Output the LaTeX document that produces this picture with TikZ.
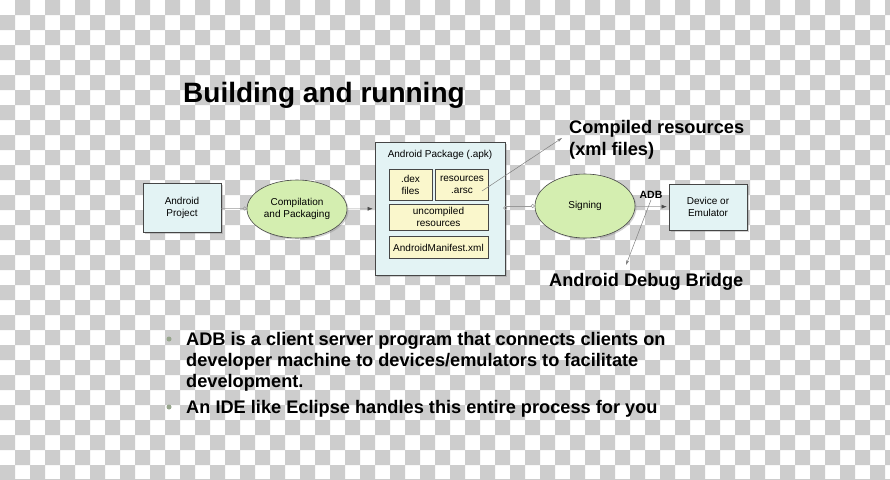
\documentclass[tikz,border=0pt]{standalone}
\usepackage{fontspec}
\setmainfont{Liberation Sans}
\usetikzlibrary{positioning, shapes.geometric, arrows.meta, shadows}

\definecolor{chk}{RGB}{205,205,205}
\definecolor{boxblue}{RGB}{227,243,244}
\definecolor{ovalgreen}{RGB}{212,238,176}
\definecolor{paleyellow}{RGB}{250,247,204}
\definecolor{edgegray}{RGB}{70,70,70}
\definecolor{dotgray}{RGB}{150,165,140}

\begin{document}
\begin{tikzpicture}[x=1pt,y=-1pt,
    box/.style={draw=edgegray, line width=0.6pt, fill=boxblue, inner sep=0pt,
      align=center, font=\fontsize{10}{12}\selectfont,
      drop shadow={shadow xshift=1.5pt, shadow yshift=-1.5pt, opacity=0.35}},
    oval/.style={ellipse, draw=edgegray, line width=0.6pt, fill=ovalgreen, inner sep=0pt,
      align=center, font=\fontsize{10}{12}\selectfont,
      drop shadow={shadow xshift=1.5pt, shadow yshift=-1.5pt, opacity=0.35}},
    inbox/.style={draw=edgegray, line width=0.5pt, fill=paleyellow, inner sep=0pt,
      align=center, font=\fontsize{10}{12}\selectfont},
    link/.style={draw=gray!80, line width=0.5pt},
    feed/.style={draw=gray!80, line width=0.5pt, shorten >=2pt,
      -{Latex[length=5pt,width=4pt,color=black!70]}},
    callout/.style={draw=gray, line width=0.5pt, -{Stealth[length=5pt,width=3pt]}},
    big/.style={font=\bfseries\fontsize{18.2}{22}\selectfont, inner sep=0pt},
    bulletdot/.style={circle, fill=dotgray, inner sep=0pt, minimum size=5pt}]

  \useasboundingbox (0,0) rectangle (890,479);

  % transparency checkerboard
  \begin{scope}
    \clip (0,0) rectangle (890,479);
    \fill[white] (0,0) rectangle (890,479);
    \fill[chk, even odd rule]
      \foreach \j in {1,3,...,31} {(0,\j*15) rectangle (890,\j*15+15)}
      \foreach \i in {1,3,...,59} {(\i*15,0) rectangle (\i*15+15,479)};
  \end{scope}

  \node[anchor=base west, inner sep=0pt, font=\bfseries\fontsize{28}{32}\selectfont] (title) at (183,102) {Building and running};

  % build chain
  \node[box, minimum width=78, minimum height=49] (project) at (182,208) {Android\\Project};
  \node[oval, minimum width=100, minimum height=58] (compile) at (297,209) {Compilation\\and Packaging};
  \node[box, minimum width=130, minimum height=133] (apk) at (440,208.5) {};
  \node[font=\fontsize{10}{12}\selectfont] (apktitle) at (440,155) {Android Package (.apk)};
  \node[inbox, minimum width=43, minimum height=31] (dex) at (410.5,184.5) {.dex\\files};
  \node[inbox, minimum width=53, minimum height=31, right=3pt of dex] (arsc) {resources\\.arsc};
  \node[inbox, minimum width=99, minimum height=26] (uncomp) at (438.5,217) {uncompiled\\resources};
  \node[inbox, minimum width=99, minimum height=22, below=6pt of uncomp] (manifest) {AndroidManifest.xml};
  \node[oval, minimum width=100, minimum height=64] (sign) at (585,206) {Signing};
  \node[box, minimum width=78, minimum height=46] (device) at (708,207) {Device or\\Emulator};

  \path[link, -{Circle[open,length=4pt]}] (project) edge (compile);
  \path[feed] (compile) edge (apk);
  \path[link, -{Circle[open,length=4pt]}] (apk.east |- sign.west) edge (sign.west);
  \path[feed] (sign) edge (device);

  % annotations
  \node[font=\bfseries\fontsize{10.5}{12}\selectfont, inner sep=1pt] (adb) at (651,195) {ADB};
  \node[big, anchor=base west] (compiled) at (569,133.5) {Compiled resources};
  \node[big, anchor=base west] (xmlfiles) at (569,155.5) {(xml files)};
  \node[big, anchor=base west] (bridge) at (549,286) {Android Debug Bridge};
  \coordinate (arscpt) at (482,191);
  \coordinate (ctip) at (562,138);
  \coordinate (btip) at (626,265);
  \draw[callout] (arscpt) -- (ctip);
  \draw[callout] (adb.south) -- (btip);

  % notes
  \node[bulletdot] (dot1) at (169,339) {};
  \node[big, anchor=base west] (note1) at (186,345.5) {ADB is a client server program that connects clients on};
  \node[big, anchor=base west] (note1b) at (186,366.5) {developer machine to devices/emulators to facilitate};
  \node[big, anchor=base west] (note1c) at (186,387.5) {development.};
  \node[bulletdot] (dot2) at (169,407) {};
  \node[big, anchor=base west] (note2) at (186,413) {An IDE like Eclipse handles this entire process for you};
\end{tikzpicture}
\end{document}
